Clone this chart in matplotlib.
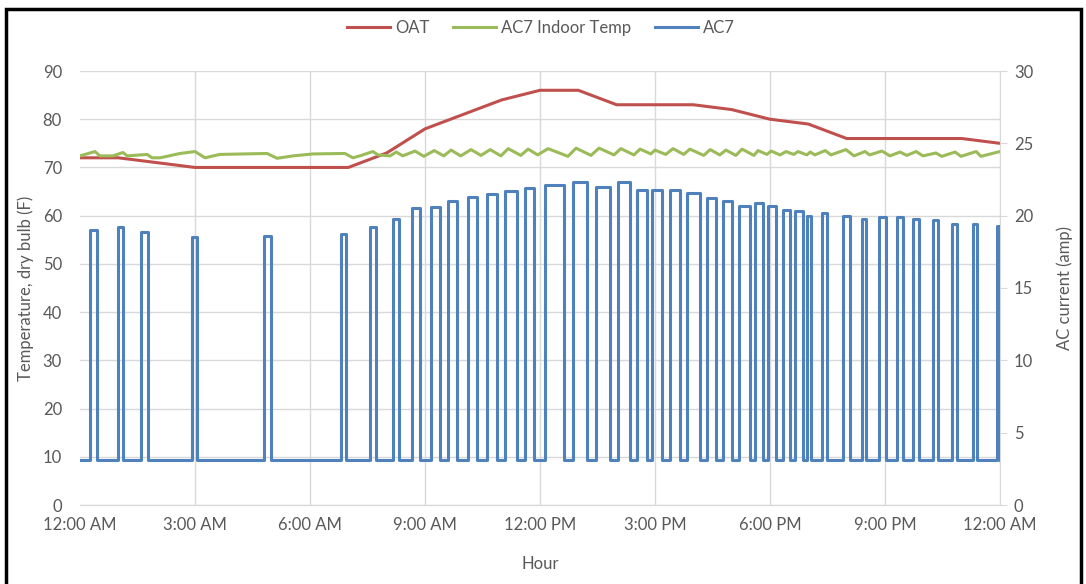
import matplotlib
matplotlib.use("Agg")
import matplotlib.pyplot as plt
from matplotlib.lines import Line2D
from matplotlib.patches import Rectangle

plt.rcParams['font.family'] = ['Lato', 'DejaVu Sans']

# hourly outdoor air temperature (F), 12 AM .. next 12 AM
oat_hours = list(range(25))
oat_temps = [72, 72, 71, 70, 70, 70, 70, 70, 73, 78, 81, 84, 86,
             86, 83, 83, 83, 82, 80, 79, 76, 76, 76, 76, 75]

# indoor temperature (F) at the turning points of the trace
green_hours = [0.00, 0.39, 0.52, 0.86, 1.12, 1.23, 1.75, 1.88, 2.09, 2.61,
               3.00, 3.26, 3.65, 4.88, 5.14, 5.56, 6.08, 6.91, 7.12, 7.30,
               7.64, 7.77, 8.09,
               8.25, 8.42, 8.74, 8.97, 9.24, 9.49, 9.68, 9.93, 10.20, 10.46,
               10.70, 10.98, 11.17, 11.50, 11.69, 11.94, 12.21, 12.73, 12.94, 13.33,
               13.54, 13.93, 14.11, 14.45, 14.61, 14.89, 15.00, 15.28, 15.47, 15.75,
               15.91, 16.27, 16.44, 16.69, 16.85, 17.11, 17.27, 17.58, 17.69, 17.92,
               18.03, 18.26, 18.42, 18.62, 18.73, 18.96, 19.05, 19.17, 19.44, 19.59,
               19.98, 20.19, 20.48, 20.60, 20.92, 21.13, 21.39, 21.57, 21.81, 21.99,
               22.33, 22.48, 22.83, 22.98, 23.38, 23.50, 24.00]
green_temps = [72.4, 73.3, 72.4, 72.4, 73.1, 72.4, 72.7, 72.0, 72.0, 72.9,
               73.3, 72.0, 72.7, 72.9, 71.9, 72.4, 72.8, 72.9, 72.0, 72.4,
               73.3, 72.6, 72.4,
               73.2, 72.4, 73.4, 72.3, 73.5, 72.4, 73.6, 72.4, 73.7, 72.5,
               73.7, 72.4, 73.9, 72.5, 73.8, 72.6, 73.9, 72.3, 74.0, 72.5,
               74.0, 72.6, 73.9, 72.6, 73.8, 72.8, 73.6, 72.7, 73.9, 72.7,
               73.8, 72.5, 73.7, 72.6, 73.6, 72.5, 73.8, 72.5, 73.5, 72.7,
               73.4, 72.6, 73.3, 72.7, 73.3, 72.6, 73.2, 72.6, 73.5, 72.6,
               73.7, 72.4, 73.3, 72.6, 73.4, 72.4, 73.2, 72.5, 73.3, 72.4,
               73.0, 72.3, 73.2, 72.3, 73.3, 72.3, 73.3]

# AC7 compressor cycles: on time, off time (hours) and running current (amp)
ac_on = [0.26, 0.99, 1.59, 2.92, 4.80, 6.81, 7.57, 8.17, 8.66, 9.16, 9.60,
         10.12, 10.62, 11.09, 11.61, 12.13, 12.86, 13.46, 14.03, 14.53, 14.92,
         15.39, 15.83, 16.36, 16.77, 17.19, 17.61, 17.95, 18.34, 18.65, 18.97,
         19.36, 19.90, 20.40, 20.84, 21.31, 21.73, 22.25, 22.75, 23.30, 23.92]
ac_off = [0.44, 1.12, 1.77, 3.05, 4.98, 6.94, 7.72, 8.32, 8.87, 9.39, 9.83,
          10.36, 10.88, 11.40, 11.84, 12.63, 13.23, 13.83, 14.35, 14.79, 15.18,
          15.65, 16.17, 16.59, 17.01, 17.48, 17.82, 18.16, 18.52, 18.86, 19.07,
          19.49, 20.09, 20.50, 21.03, 21.47, 21.89, 22.38, 22.88, 23.40, 24.00]
ac_peak = [19.0, 19.2, 18.9, 18.5, 18.6, 18.7, 19.2, 19.8, 20.5, 20.6, 21.0,
           21.3, 21.5, 21.7, 21.9, 22.1, 22.3, 22.0, 22.3, 21.8, 21.8,
           21.8, 21.6, 21.2, 21.0, 20.7, 20.9, 20.7, 20.4, 20.3, 20.0,
           20.2, 20.0, 19.8, 19.9, 19.9, 19.8, 19.7, 19.4, 19.4, 19.3]
ac_idle = 3.1

tick_hours = [0, 3, 6, 9, 12, 15, 18, 21, 24]
tick_labels = ['12:00 AM', '3:00 AM', '6:00 AM', '9:00 AM', '12:00 PM',
               '3:00 PM', '6:00 PM', '9:00 PM', '12:00 AM']

RED = '#c0504d'
GREEN = '#9bbb59'
BLUE = '#4f81bd'
TXT = '#595959'
GRID = '#d9d9d9'

# step trace of the compressor current
ac_t, ac_a = [0.0], [ac_idle]
for on, off, pk in zip(ac_on, ac_off, ac_peak):
    ac_t += [on, on, off, off]
    ac_a += [ac_idle, pk, pk, ac_idle]
if ac_t[-1] < 24:
    ac_t.append(24.0)
    ac_a.append(ac_idle)

W, H = 1086, 584
fig = plt.figure(figsize=(W / 100, H / 100), dpi=100)
ax = fig.add_axes([80 / W, 1 - 505 / H, 920 / W, 434 / H])
ax2 = ax.twinx()

ax.plot(oat_hours, oat_temps, color=RED, lw=2.2, zorder=3)
ax.plot(green_hours, green_temps, color=GREEN, lw=2.2, zorder=3)
ax2.plot(ac_t, ac_a, color=BLUE, lw=2.2, solid_joinstyle='round', zorder=3)

ax.set_xlim(0, 24)
ax.set_ylim(0, 90)
ax2.set_ylim(0, 30)
ax.set_xticks(tick_hours)
ax.set_xticklabels(tick_labels)
ax.set_yticks(range(0, 91, 10))
ax2.set_yticks(range(0, 31, 5))

ax.grid(True, color=GRID, lw=1)
ax.get_xgridlines()[0].set_visible(False)
ax.set_axisbelow(True)

for a in (ax, ax2):
    for s in ('top', 'left'):
        a.spines[s].set_visible(False)
    a.spines['bottom'].set_color(GRID)
    a.spines['right'].set_visible(False)
ax2.spines['right'].set_visible(True)
ax2.spines['right'].set_color(GRID)

ax.tick_params(axis='both', length=0, labelsize=12, labelcolor=TXT)
ax.tick_params(axis='y', pad=13)
ax.tick_params(axis='x', pad=9)
ax2.tick_params(axis='y', length=5, color=GRID, labelsize=12,
                labelcolor=TXT, pad=5)

ax.set_ylabel('Temperature, dry bulb (F)', fontsize=12, color=TXT)
ax.yaxis.set_label_coords(-0.05, 0.5)
ax2.set_ylabel('AC current (amp)', fontsize=12, color=TXT)
ax2.yaxis.set_label_coords(1.061, 0.5)
ax.set_xlabel('Hour', fontsize=12, color=TXT)
ax.xaxis.set_label_coords(0.5, -0.118)

handles = [Line2D([], [], color=RED, lw=2.2),
           Line2D([], [], color=GREEN, lw=2.2),
           Line2D([], [], color=BLUE, lw=2.2)]
fig.legend(handles, ['OAT', 'AC7 Indoor Temp', 'AC7'], loc='center',
           bbox_to_anchor=(541 / W, 1 - 28 / H), ncol=3, frameon=False,
           fontsize=12, labelcolor=TXT, handlelength=2.6,
           handletextpad=0.3, columnspacing=1.4)

# black frame round the chart, open at the bottom edge
fig.add_artist(Rectangle((6 / W, -0.05), (1081 - 6) / W, 1.05 - 9 / H,
                         transform=fig.transFigure, fill=False,
                         ec='black', lw=2.5))

fig.savefig('out.png', dpi=100)
